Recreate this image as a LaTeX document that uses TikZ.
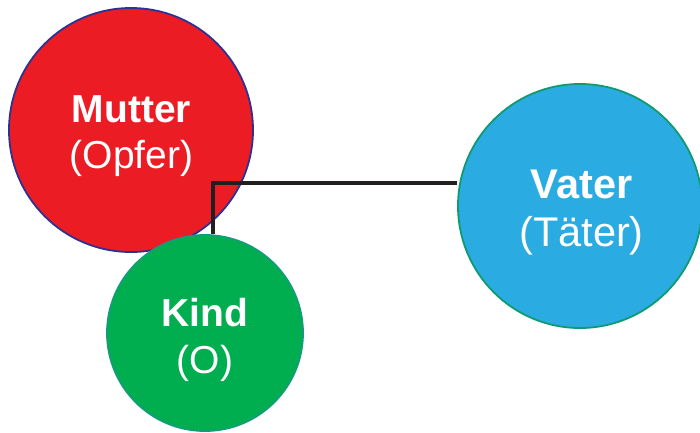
\documentclass[tikz,border=0pt]{standalone}
\usepackage{fontspec}
\setmainfont{Liberation Sans}
\definecolor{mred}{HTML}{EC1C24}
\definecolor{mredb}{HTML}{2E3192}
\definecolor{kgreen}{HTML}{00AE4F}
\definecolor{kgreenb}{HTML}{139C7A}
\definecolor{vblue}{HTML}{2AACE2}
\definecolor{vblueb}{HTML}{0F9A72}
\definecolor{linec}{HTML}{231F20}
\pgfdeclarelayer{back}
\pgfdeclarelayer{mid}
\pgfsetlayers{back,mid,main}
\begin{document}
\begin{tikzpicture}[x=1pt,y=-1pt,
  bubble/.style={circle,inner sep=0pt,line width=1.8pt},
  conn/.style={line width=3.4pt,draw=linec},
  txt/.style={text=white,anchor=base,inner sep=0pt}]
\useasboundingbox (0,0) rectangle (700,432);
\begin{pgfonlayer}{back}
\node[bubble,fill=mred,draw=mredb,minimum size=244pt] (mutter) at (131,130) {};
\end{pgfonlayer}
\coordinate (corner) at (213,183);
\node[bubble,fill=kgreen,draw=kgreenb,minimum size=196pt] (kind) at (205,333) {};
\node[bubble,fill=vblue,draw=vblueb,minimum size=244pt] (vater) at (580,206) {};
\begin{pgfonlayer}{mid}
\draw[conn] (corner |- kind.north) -- (corner) -- (corner -| vater.west);
\end{pgfonlayer}
\node[txt,font=\fontsize{39}{46}\bfseries] (t1) at (131.5,122.7) {Mutter};
\node[txt,font=\fontsize{39}{46}\selectfont] (t2) at (131.5,168) {(Opfer)};
\node[txt,font=\fontsize{41.5}{49}\bfseries] (t3) at (581.5,198) {Vater};
\node[txt,font=\fontsize{41.5}{49}\selectfont] (t4) at (581.5,246.7) {(Täter)};
\node[txt,font=\fontsize{39}{46}\bfseries] (t5) at (205,326) {Kind};
\node[txt,font=\fontsize{39}{46}\selectfont] (t6) at (205,373) {(O)};
\end{tikzpicture}
\end{document}
